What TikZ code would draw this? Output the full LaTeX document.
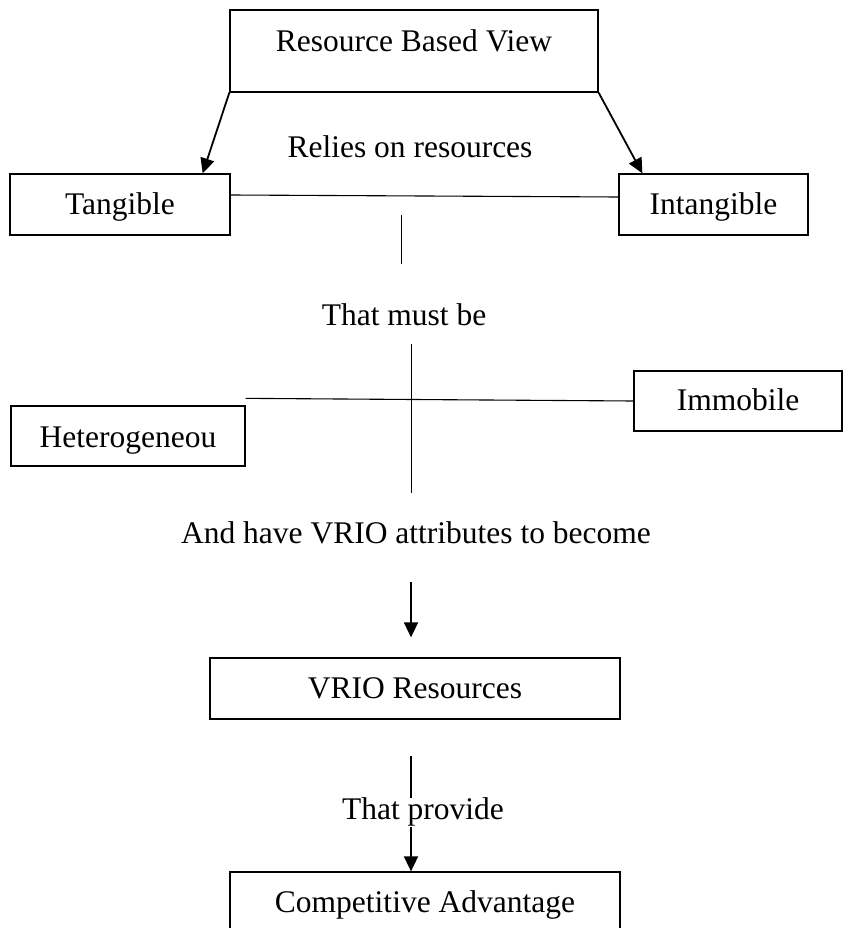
\documentclass[tikz,border=0pt]{standalone}
\usepackage{fontspec}
\setmainfont{Liberation Serif}
\usetikzlibrary{arrows.meta, calc}

\begin{document}
\begin{tikzpicture}[
    x=1pt, y=1pt,
    >={Triangle[length=15pt, width=14pt]},
    box/.style={
        rectangle, draw, line width=1.3pt, inner sep=0pt, text centered, font=\fontsize{31.5}{36}\selectfont
    },
    linktext/.style={
        inner sep=0pt, anchor=base, font=\fontsize{31.5}{36}\selectfont
    },
    link/.style={line width=1.1pt},
    arrow/.style={line width=1.8pt, ->}
]
    \useasboundingbox (0,0) rectangle (843,-928);
    \clip (0,0) rectangle (843,-928);

    % --- nodes ---
    \node [box, minimum width=368pt, text height=42pt, text depth=40pt] (rbv) at (414,-51) {Resource Based View};
    \node [box, minimum width=220pt, text height=40pt, text depth=21pt] (tangible) at (120,-204.5) {Tangible};
    \node [box, minimum width=189pt, text height=40pt, text depth=21pt] (intangible) at (713.5,-204.5) {Intangible};
    \node [box, minimum width=234pt, text height=41pt, text depth=19pt] (het) at (128,-436) {Heterogeneou};
    \node [box, minimum width=208pt, text height=39pt, text depth=21pt] (imm) at (738,-401) {Immobile};
    \node [box, minimum width=410pt, text height=40pt, text depth=21pt] (vrio) at (415,-688.5) {VRIO Resources};
    \node [box, minimum width=390pt, text height=40pt, text depth=28pt] (ca) at (425,-906) {Competitive Advantage};

    \node [linktext] (relies) at (410,-158) {Relies on resources};
    \node [linktext] (mustbe) at (404,-325) {That must be};
    \node [linktext] (become) at (416,-543) {And have VRIO attributes to become};

    \coordinate (stem top) at (401,-215);
    \coordinate (stem bottom) at (401,-264);
    \coordinate (cross top) at (411,-344);
    \coordinate (cross bottom) at (411,-493);
    \coordinate (drop) at (411,-582);

    % --- edges ---
    \path [draw, arrow] (rbv.south west) -- ([xshift=-28pt]tangible.north east);
    \path [draw, arrow] (rbv.south east) -- ([xshift=24pt]intangible.north west);
    \path [draw, link] ([yshift=9.5pt]tangible.east) -- ([yshift=7.5pt]intangible.west);
    \path [draw, line width=1pt] (stem top) -- (stem bottom);

    \path [draw, link] ([yshift=7pt]het.north east) -- (imm.west);
    \path [draw, line width=1pt] (cross top) -- (cross bottom);

    \path [draw, arrow] (drop) -- ([xshift=-4pt, yshift=20pt]vrio.north);
    \path [draw, arrow] ([xshift=-4pt, yshift=-36pt]vrio.south) -- node [pos=0.49, xshift=12pt, fill=white, inner sep=0pt, font=\fontsize{31.5}{36}\selectfont] (provide) {That provide} ([xshift=-14pt]ca.north);

\end{tikzpicture}
\end{document}
